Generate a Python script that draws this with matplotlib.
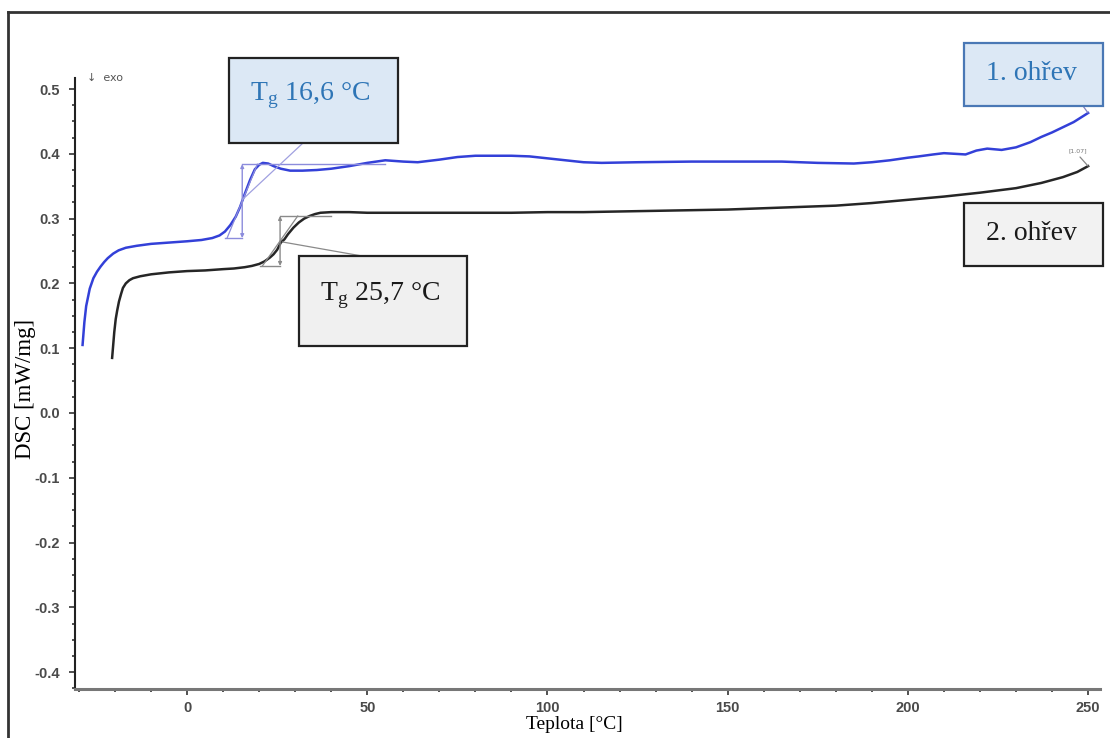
import matplotlib.pyplot as plt
from matplotlib.patches import Rectangle
from matplotlib.lines import Line2D
from matplotlib.ticker import MultipleLocator, FormatStrFormatter

# 1. ohřev (blue)
temp_1 = [-29.0, -28.5, -28.0, -27.0, -26.0, -25.0, -24.0, -23.0, -22.0, -20.5,
          -19.0, -17.0, -14.0, -10.0, -5.0, 0.0, 4.0, 7.0, 9.0, 10.5,
          12.0, 13.5, 14.7, 16.0, 17.5, 18.8, 20.0, 21.0, 22.5, 24.0,
          26.0, 28.6, 32.0, 36.0, 40.0, 45.0, 50.0, 55.0, 60.0, 64.0,
          70.0, 75.0, 80.0, 90.0, 95.0, 100.0, 105.0, 110.0, 115.0, 125.0,
          140.0, 150.0, 165.0, 175.0, 185.0, 190.0, 195.0, 200.0, 203.0, 207.0,
          210.0, 213.0, 216.0, 219.0, 222.0, 226.0, 230.0, 234.0, 237.0, 240.0,
          243.0, 246.0, 248.0, 250.0]
dsc_1 = [0.105, 0.140, 0.165, 0.192, 0.208, 0.218, 0.226, 0.233, 0.239, 0.246,
         0.251, 0.255, 0.258, 0.261, 0.263, 0.265, 0.267, 0.270, 0.274, 0.280,
         0.290, 0.303, 0.318, 0.338, 0.360, 0.376, 0.383, 0.386, 0.385, 0.381,
         0.377, 0.374, 0.374, 0.375, 0.377, 0.381, 0.386, 0.390, 0.388, 0.387,
         0.391, 0.395, 0.397, 0.397, 0.396, 0.393, 0.390, 0.387, 0.386, 0.387,
         0.388, 0.388, 0.388, 0.386, 0.385, 0.387, 0.390, 0.394, 0.396, 0.399,
         0.401, 0.400, 0.399, 0.405, 0.408, 0.406, 0.410, 0.418, 0.426, 0.433,
         0.441, 0.449, 0.456, 0.463]

# 2. ohřev (black)
temp_2 = [-20.8, -20.5, -20.2, -19.8, -19.4, -18.9, -18.3, -17.8, -17.0, -16.0,
          -15.0, -13.0, -10.0, -5.0, 0.0, 5.0, 10.0, 13.0, 16.0, 18.0,
          20.0, 21.5, 23.0, 24.0, 25.0, 26.0, 27.0, 28.0, 29.5, 31.0,
          32.5, 34.0, 35.5, 37.0, 40.0, 45.0, 50.0, 60.0, 70.0, 80.0,
          90.0, 100.0, 110.0, 120.0, 130.0, 140.0, 150.0, 160.0, 170.0, 180.0,
          190.0, 200.0, 210.0, 220.0, 230.0, 237.0, 243.0, 247.0, 250.0]
dsc_2 = [0.085, 0.105, 0.125, 0.145, 0.158, 0.172, 0.184, 0.193, 0.200, 0.205,
         0.208, 0.211, 0.214, 0.217, 0.219, 0.220, 0.222, 0.223, 0.225, 0.227,
         0.230, 0.234, 0.240, 0.245, 0.252, 0.263, 0.268, 0.276, 0.286, 0.294,
         0.300, 0.304, 0.307, 0.309, 0.310, 0.310, 0.309, 0.309, 0.309, 0.309,
         0.309, 0.310, 0.310, 0.311, 0.312, 0.313, 0.314, 0.316, 0.318, 0.320,
         0.324, 0.329, 0.334, 0.340, 0.347, 0.355, 0.364, 0.372, 0.381]

# glass transition construction (onset / midpoint / end)
tg_1 = {'x': 15.3, 'lo': 0.270, 'hi': 0.384, 'x_lo': 10.5, 'x_hi': 55.0, 'mid': 0.329}
tg_2 = {'x': 25.8, 'lo': 0.227, 'hi': 0.304, 'x_lo': 20.3, 'x_hi': 40.0, 'mid': 0.264}
tg_labels = ['16,6', '25,7']

W, H = 1110, 738
BLUE = '#3340d8'
BLUE_TXT = '#2e75b6'
SERIF = ['Liberation Serif', 'DejaVu Serif']


def fpx(x, y):
    # figure pixel (top-left origin) -> figure fraction
    return x / W, 1 - y / H


fig = plt.figure(figsize=(W / 100, H / 100), dpi=100)
ax = fig.add_axes([75 / W, 1 - 689 / H, 1025 / W, 611 / H])

ax.plot(temp_1, dsc_1, color=BLUE, lw=1.8)
ax.plot(temp_2, dsc_2, color='#262626', lw=1.8)

# construction lines
for tg, col in [(tg_1, '#8c8cdc'), (tg_2, '#8a8a8a')]:
    ax.plot([tg['x_lo'], tg['x']], [tg['lo'], tg['lo']], color=col, lw=1)
    ax.plot([tg['x'], tg['x_hi']], [tg['hi'], tg['hi']], color=col, lw=1)
    ax.annotate('', xy=(tg['x'], tg['hi']), xytext=(tg['x'], tg['lo']),
                arrowprops=dict(arrowstyle='<|-|>', color=col, lw=1,
                                mutation_scale=5, shrinkA=0, shrinkB=0))
    ax.plot([tg['x_lo'] + 0.6, tg['x'] + (tg['x'] - tg['x_lo'] - 0.6)],
            [tg['lo'], tg['hi']], color=col, lw=0.9)

ax.set_xlim(-31.1, 253.3)
ax.set_ylim(-0.426, 0.517)
ax.xaxis.set_major_locator(MultipleLocator(50))
ax.xaxis.set_minor_locator(MultipleLocator(10))
ax.yaxis.set_major_locator(MultipleLocator(0.1))
ax.yaxis.set_minor_locator(MultipleLocator(0.025))
ax.yaxis.set_major_formatter(FormatStrFormatter('%.1f'))
for s in ['top', 'right']:
    ax.spines[s].set_visible(False)
ax.spines['left'].set_color('#222222')
ax.spines['left'].set_linewidth(1.5)
ax.spines['bottom'].set_color('#777777')
ax.spines['bottom'].set_linewidth(2.2)
ax.tick_params(which='major', length=4, width=1.2, color='#333333',
               labelsize=10.5, labelcolor='#4a4a4a', pad=5)
ax.tick_params(axis='y', which='major', pad=7)
ax.tick_params(which='minor', length=2.5, width=1.2, color='#333333')
for lab in ax.get_xticklabels() + ax.get_yticklabels():
    lab.set_fontfamily('Liberation Sans')
    lab.set_fontweight('bold')

ax.set_xlabel('Teplota [°C]', family=SERIF, fontsize=14)
ax.set_ylabel('DSC [mW/mg]', family=SERIF, fontsize=16.5)
ax.xaxis.set_label_coords(0.487, -0.045)
ax.yaxis.set_label_coords(-0.038, 0.491)

ax.text(0.012, 1.0, '↓  exo', transform=ax.transAxes, fontsize=8,
        color='#555555', va='center', ha='left')

# outer frame (left + top)
fig.add_artist(Line2D([8 / W, 8 / W], [0, 1 - 12 / H], color='#333333', lw=2))
fig.add_artist(Line2D([8 / W, 1], [1 - 12 / H, 1 - 12 / H], color='#333333', lw=2))

# annotation boxes: (x0, y0, x1, y1) in pixels, fill, edge, text colour
boxes = [
    ((229, 58, 398, 143), '#dce8f5', '#222222', BLUE_TXT, (310, 96), 'Tg', tg_labels[0]),
    ((299, 256, 467, 346), '#f0f0f0', '#222222', '#1a1a1a', (380, 296), 'Tg', tg_labels[1]),
    ((964, 43, 1103, 106), '#dce8f5', '#4a78b5', BLUE_TXT, (1031, 73), None, '1. ohřev'),
    ((964, 203, 1103, 266), '#f2f2f2', '#222222', '#1a1a1a', (1031, 233), None, '2. ohřev'),
]
for (x0, y0, x1, y1), fc, ec, tc, (tx, ty), kind, txt in boxes:
    fx0, fy1 = fpx(x0, y1)
    fig.patches.append(Rectangle((fx0, fy1), (x1 - x0) / W, (y1 - y0) / H,
                                 transform=fig.transFigure, facecolor=fc,
                                 edgecolor=ec, lw=1.6, zorder=5))
    if kind:
        s = r'T$_{\mathregular{g}}$ ' + txt + ' °C'
    else:
        s = txt
    fig.text(*fpx(tx, ty), s, family=SERIF, fontsize=20, color=tc,
             ha='center', va='center', zorder=6)

# leader lines
leaders = [
    ((tg_1['x'], tg_1['mid']), (303, 143), '#a0a0e0'),
    ((tg_2['x'] + 0.6, tg_2['mid']), (362, 256), '#8a8a8a'),
    ((temp_1[-1], dsc_1[-1]), (1083, 106), '#8080c0'),
    ((temp_2[-1], dsc_2[-1]), (1080, 157), '#888888'),
]
for xy, pix, col in leaders:
    ax.annotate('', xy=xy, xycoords='data', xytext=fpx(*pix),
                textcoords='figure fraction',
                arrowprops=dict(arrowstyle='-', color=col, lw=0.9,
                                shrinkA=0, shrinkB=0))

fig.text(*fpx(1078, 151), '[1.07]', fontsize=4.5, color='#777777',
         ha='center', va='center')

fig.savefig('out.png', dpi=100)
